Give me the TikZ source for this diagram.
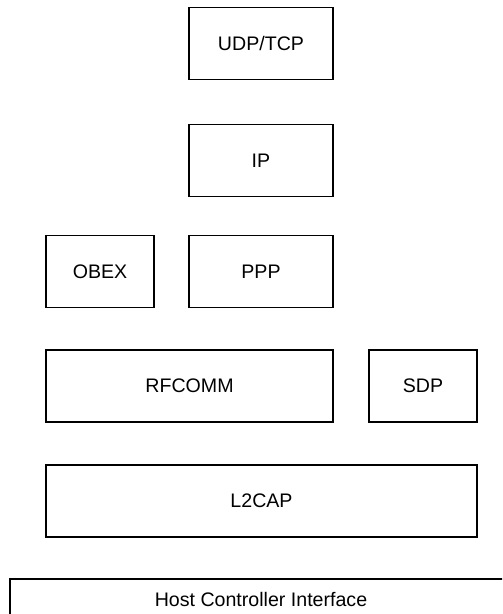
\documentclass[tikz,border=0pt]{standalone}
\usepackage{fontspec}
\setmainfont{Liberation Sans}
\usepackage{tikz}

\begin{document}
\begin{tikzpicture}[
  x=0.5pt, y=-0.5pt,
  every node/.style={draw, rectangle, inner sep=0pt, line width=0.7pt,
  minimum height=36pt, font=\fontsize{9.8}{12}\selectfont},
  small/.style={minimum width=54pt},
  mid/.style={minimum width=72pt}
]
\clip (0,0) rectangle (502,614);

\node[mid] (udptcp) at (261,43.5) {UDP/TCP};
\node[mid] (ip) at (261,160.5) {IP};
\node[small] (obex) at (100,271.5) {OBEX};
\node[mid] (ppp) at (261,271.5) {PPP};
\node[minimum width=143.5pt] (rfcomm) at (189.5,386) {RFCOMM};
\node[small] (sdp) at (423,386) {SDP};
\node[minimum width=215.5pt] (l2cap) at (261.5,501) {L2CAP};
\node[minimum width=251pt, minimum height=20pt] (hci) at (261,599)
  {Host Controller Interface};

\end{tikzpicture}
\end{document}
